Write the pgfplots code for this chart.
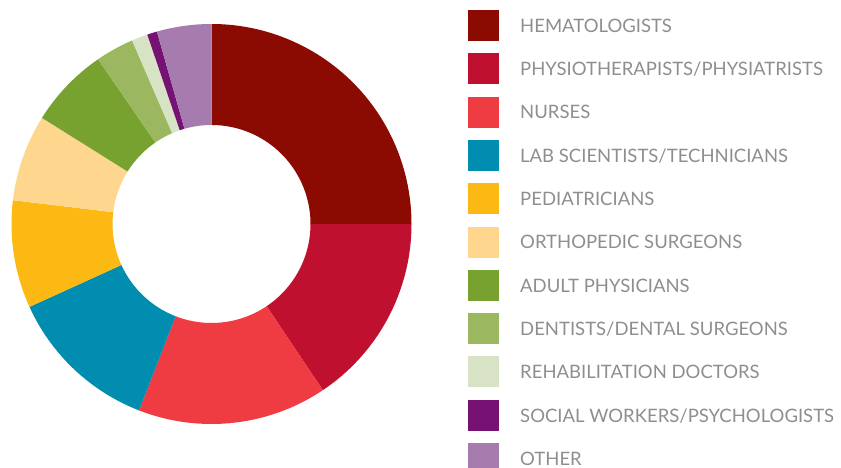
\documentclass[border=0pt]{standalone}
\usepackage{pgfplots}
\usepackage{pgfplotstable}
\pgfplotsset{compat=1.18}
\usepackage{fontspec}
\setmainfont{Lato}
\definecolor{c0}{HTML}{8B0A02}
\definecolor{c1}{HTML}{C0102F}
\definecolor{c2}{HTML}{EF3B42}
\definecolor{c3}{HTML}{008DB0}
\definecolor{c4}{HTML}{FCB813}
\definecolor{c5}{HTML}{FED68E}
\definecolor{c6}{HTML}{78A22F}
\definecolor{c7}{HTML}{9BB860}
\definecolor{c8}{HTML}{D7E3C4}
\definecolor{c9}{HTML}{751274}
\definecolor{c10}{HTML}{A67BAE}
\definecolor{legtext}{HTML}{8E8E8E}
\newcommand\legfont{\fontsize{18.5bp}{20bp}\selectfont}
\pgfplotstableread[col sep=comma]{
value,name
25.0,HEMATOLOGISTS
15.6,PHYSIOTHERAPISTS/PHYSIATRISTS
15.3,NURSES
12.3,LAB SCIENTISTS/TECHNICIANS
8.7,PEDIATRICIANS
7.0,ORTHOPEDIC SURGEONS
6.5,ADULT PHYSICIANS
3.1,DENTISTS/DENTAL SURGEONS
1.3,REHABILITATION DOCTORS
0.8,SOCIAL WORKERS/PSYCHOLOGISTS
4.4,OTHER
}\datatable
\begin{document}
\begin{tikzpicture}
\path[use as bounding box] (0,0) rectangle (841bp,468bp);
\clip (0,0) rectangle (841bp,468bp);
\begin{axis}[scale only axis, width=841bp, height=468bp,
  at={(0,0)}, anchor=south west,
  xmin=0, xmax=841, ymin=0, ymax=468, y dir=reverse,
  axis lines=none, clip=true]
\addplot[draw=none] coordinates {(0,0)};
\def\cum{0}
\pgfplotsforeachungrouped \i in {0,...,10}{%
  \pgfplotstablegetelem{\i}{value}\of\datatable
  \let\v\pgfplotsretval
  \pgfplotstablegetelem{\i}{name}\of\datatable
  \let\nm\pgfplotsretval
  \pgfmathsetmacro\a{90-3.6*\cum}%
  \pgfmathsetmacro\b{90-3.6*(\cum+\v)}%
  \pgfmathsetmacro\ytop{10+43.3*\i}%
  \pgfmathsetmacro\ybot{\ytop+31}%
  \pgfmathsetmacro\ybase{\ytop+22.3}%
  \edef\tmp{%
    \noexpand\fill[c\i] ([shift={(\a:200bp)}]axis cs:211.5,224) arc[start angle=\a, end angle=\b, radius=200bp]
      -- ([shift={(\b:99bp)}]axis cs:211.5,224) arc[start angle=\b, end angle=\a, radius=99bp] -- cycle;
    \noexpand\fill[c\i] (axis cs:468,\ytop) rectangle (axis cs:499,\ybot);
    \noexpand\node[anchor=base west, inner sep=0pt, text=legtext, font=\noexpand\legfont] at (axis cs:520,\ybase) {\nm};
  }%
  \tmp
  \pgfmathsetmacro\cum{\cum+\v}%
}
\end{axis}
\end{tikzpicture}
\end{document}
